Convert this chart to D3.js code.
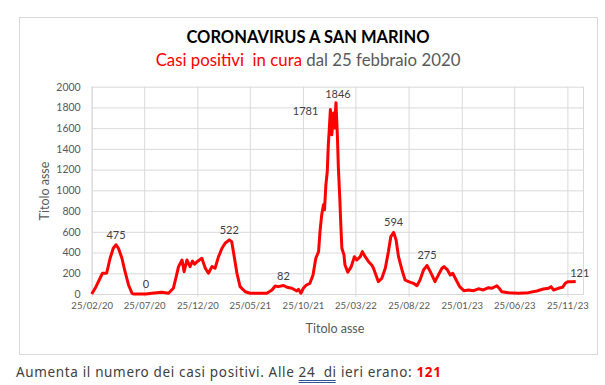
<!DOCTYPE html>
<html>
<head>
<meta charset="utf-8">
<script src="https://cdn.jsdelivr.net/npm/d3@7"></script>
<style>
  body { margin: 0; background: #fff; }
  svg { display: block; }
  text { font-family: Lato, "Open Sans", sans-serif; }
</style>
</head>
<body>
<svg id="chart" width="605" height="385"></svg>
<script>
// dates of the readings (day/month)
const dates = [
  "2020-02-25","2020-03-06","2020-03-20","2020-03-27","2020-04-08","2020-04-18","2020-04-27","2020-05-05",
  "2020-05-12","2020-05-22","2020-05-31","2020-06-10","2020-06-20","2020-06-24","2020-07-30","2020-08-16",
  "2020-09-14","2020-10-03","2020-10-17","2020-10-24","2020-11-01","2020-11-11","2020-11-17","2020-11-25",
  "2020-12-04","2020-12-11","2020-12-17","2020-12-24",
  "2021-01-07","2021-01-17","2021-01-26","2021-02-05","2021-02-14","2021-02-24","2021-03-06","2021-03-15",
  "2021-03-27","2021-04-03","2021-04-11","2021-04-18","2021-04-27","2021-05-12","2021-05-26","2021-07-13",
  "2021-07-28","2021-08-06","2021-08-15","2021-08-30","2021-09-09","2021-09-23","2021-10-07","2021-10-12",
  "2021-10-19","2021-10-26","2021-11-04","2021-11-14","2021-11-23","2021-12-01","2021-12-09","2021-12-13",
  "2021-12-18","2021-12-23","2021-12-26","2021-12-30",
  "2022-01-03","2022-01-06","2022-01-09","2022-01-12","2022-01-16","2022-01-21","2022-01-24","2022-01-28",
  "2022-02-01","2022-02-04","2022-02-08","2022-02-11","2022-02-14","2022-02-20","2022-02-23","2022-03-03",
  "2022-03-13","2022-03-22","2022-03-29","2022-04-08","2022-04-14","2022-04-22","2022-05-02","2022-05-11",
  "2022-05-16","2022-05-30","2022-06-09","2022-06-19","2022-06-28","2022-07-05","2022-07-13","2022-07-20",
  "2022-07-27","2022-08-06","2022-08-15","2022-08-25","2022-09-08","2022-09-18","2022-09-27","2022-10-07",
  "2022-10-17","2022-10-24","2022-10-31","2022-11-09","2022-11-19","2022-11-29","2022-12-05","2022-12-15",
  "2022-12-23","2022-12-30",
  "2023-01-09","2023-01-19","2023-01-31","2023-02-14","2023-02-28","2023-03-14","2023-03-28","2023-04-12",
  "2023-04-22","2023-05-06","2023-05-13","2023-05-20","2023-06-08","2023-07-07","2023-08-05","2023-08-29",
  "2023-09-17","2023-10-02","2023-10-09","2023-10-16","2023-10-30","2023-11-11","2023-11-19","2023-11-26",
  "2023-12-09","2023-12-19"
];

// active cases in care
const cases = [
  0,55,152,200,200,345,441,475,
  441,345,215,87,7,0,0,7,
  16,7,55,150,264,328,215,328,
  264,318,287,312,
  345,248,200,264,248,360,441,490,
  522,505,345,200,71,22,7,7,
  39,77,71,82,65,55,30,45,
  7,55,87,103,184,345,409,602,
  763,860,812,1053,
  1182,1440,1601,1781,1536,1746,1601,1846,
  1536,1214,925,667,441,377,280,210,
  264,360,328,360,409,360,312,280,
  248,119,152,248,409,554,594,522,
  360,232,135,119,103,80,135,232,
  275,232,184,119,184,248,264,232,
  184,200,
  135,71,32,39,32,50,39,61,
  55,80,55,22,13,7,13,29,
  48,55,71,39,55,65,103,119,
  119,121
];

// points that carry a value label
const labelDates = ["2020-05-05","2020-07-30","2021-03-27","2021-08-30","2022-01-12","2022-01-28","2022-07-13","2022-10-17","2023-12-19"];

const yTicks = [0,200,400,600,800,1000,1200,1400,1600,1800,2000];
const xTickDates = ["2020-02-25","2020-07-25","2020-12-25","2021-05-25","2021-10-25","2022-03-25","2022-08-25","2023-01-25","2023-06-25","2023-11-25"];

const parse = d3.timeParse("%Y-%m-%d");
const iso = d3.timeFormat("%Y-%m-%d");
const fmt = d3.timeFormat("%d/%m/%y");
const data = dates.map((d, i) => ({date: parse(d), value: cases[i]}));

const svg = d3.select("#chart");
const plotL = 91.7, plotR = 583, plotT = 86.7, plotB = 294;

const x = d3.scaleTime()
  .domain([parse("2020-02-25"), parse("2024-01-09")])
  .range([plotL, plotR]);
const y = d3.scaleLinear().domain([0, 2000]).range([plotB, plotT]);

// outer frame
svg.append("rect")
  .attr("x", 19.5).attr("y", 17.5).attr("width", 578).attr("height", 337)
  .attr("fill", "#fff").attr("stroke", "#d9d9d9");

// title
svg.append("text")
  .attr("x", 308).attr("y", 43)
  .attr("text-anchor", "middle")
  .style("font-size", "16.5px").style("font-weight", "bold").attr("fill", "#000")
  .text("CORONAVIRUS A SAN MARINO");

const sub = svg.append("text")
  .attr("x", 308).attr("y", 66)
  .attr("text-anchor", "middle")
  .style("font-size", "16.8px");
sub.append("tspan").attr("fill", "#ff0000").text("Casi positivi\u00a0 in cura");
sub.append("tspan").attr("fill", "#595959").text(" dal 25 febbraio 2020");

// grid
const yAxis = d3.axisLeft(y).tickValues(yTicks).tickFormat(d3.format("d"))
  .tickSize(-(plotR - plotL)).tickPadding(11);
const gy = svg.append("g").attr("transform", `translate(${plotL},0)`).call(yAxis);
gy.select(".domain").remove();
gy.selectAll("line").attr("stroke", "#d9d9d9");
gy.selectAll("text").attr("fill", "#595959").style("font-size", "10.5px");

const xAxis = d3.axisBottom(x).tickValues(xTickDates.map(parse)).tickFormat(fmt)
  .tickSize(-(plotB - plotT)).tickPadding(8);
const gx = svg.append("g").attr("transform", `translate(0,${plotB})`).call(xAxis);
gx.select(".domain").attr("stroke", "#d9d9d9");
gx.selectAll("line").attr("stroke", "#d9d9d9").attr("y2", -(plotB - plotT)).attr("y1", 3);
gx.selectAll("text").attr("fill", "#595959").style("font-size", "9.5px");

// axis titles
svg.append("text")
  .attr("x", 335).attr("y", 333)
  .attr("text-anchor", "middle").attr("fill", "#595959")
  .style("font-size", "12.5px")
  .text("Titolo asse");
svg.append("text")
  .attr("transform", "translate(49,191) rotate(-90)")
  .attr("text-anchor", "middle").attr("fill", "#595959")
  .style("font-size", "12.5px")
  .text("Titolo asse");

// line
const line = d3.line().x(d => x(d.date)).y(d => y(d.value));
svg.append("path")
  .datum(data)
  .attr("fill", "none")
  .attr("stroke", "#ff0000")
  .attr("stroke-width", 3)
  .attr("stroke-linejoin", "round")
  .attr("d", line);

// value labels
const labelOffsets = {
  "2022-01-12": {dx: -12, dy: 6, anchor: "end"},
  "2022-01-28": {dx: 2, dy: -5, anchor: "middle"},
  "2023-12-19": {dx: 4, dy: -4, anchor: "middle"}
};
svg.append("g").selectAll("text")
  .data(data.filter(d => labelDates.includes(iso(d.date))))
  .join("text")
  .each(function(d) {
    const o = labelOffsets[iso(d.date)] || {dx: 0, dy: -6, anchor: "middle"};
    d3.select(this)
      .attr("x", x(d.date) + o.dx)
      .attr("y", y(d.value) + o.dy)
      .attr("text-anchor", o.anchor);
  })
  .attr("fill", "#404040")
  .style("font-size", "11px")
  .text(d => d.value);

// note under the chart
const note = svg.append("text")
  .attr("x", 16).attr("y", 377)
  .attr("fill", "#404040")
  .style("font-family", "'Noto Sans', sans-serif")
  .style("font-size", "13.5px")
  .style("letter-spacing", "0.65px");
note.append("tspan").text("Aumenta il numero dei casi positivi. Alle ");
note.append("tspan").attr("id", "ul").text("24\u00a0 di");
note.append("tspan").text(" ieri erano: ");
note.append("tspan").attr("fill", "#ff0000").style("font-weight", "bold").text("121");

const ul = document.getElementById("ul").getBBox();
[0, 2].forEach(off => {
  svg.append("line")
    .attr("x1", ul.x).attr("x2", ul.x + ul.width - 1)
    .attr("y1", 380.5 + off).attr("y2", 380.5 + off)
    .attr("stroke", "#2f5496").attr("stroke-width", 1);
});
</script>
</body>
</html>
